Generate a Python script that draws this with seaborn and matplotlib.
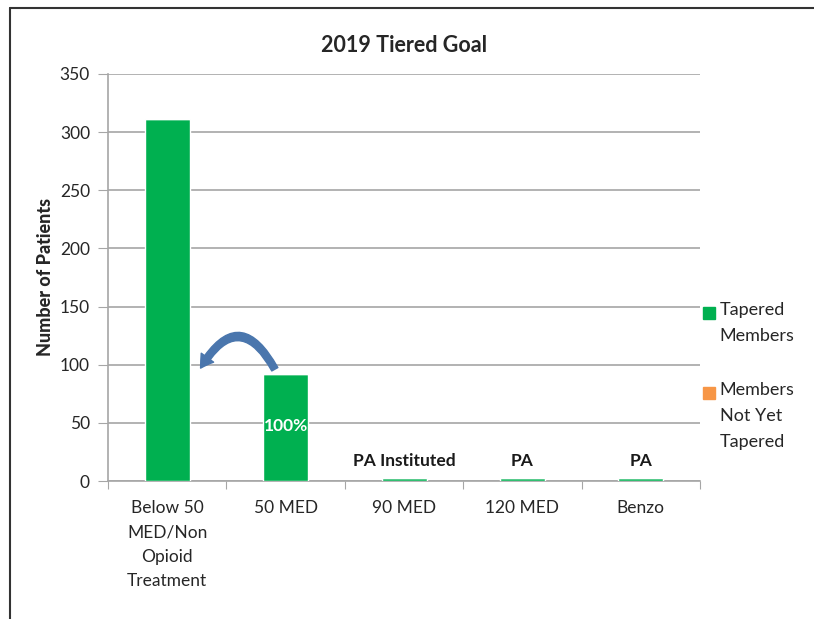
import pandas as pd
import matplotlib.pyplot as plt
import seaborn as sns
from matplotlib.lines import Line2D
from matplotlib.patches import FancyArrowPatch

# veriler
categories = ["Below 50\nMED/Non\nOpioid\nTreatment", "50 MED", "90 MED", "120 MED", "Benzo"]
tapered = [311, 92, 3, 3, 3]
not_yet_tapered = [0, 0, 0, 0, 0]
bar_notes = ["", "", "PA Instituted", "PA", "PA"]
legend_labels = ["Tapered\nMembers", "Members\nNot Yet\nTapered"]

df = pd.DataFrame({"category": categories, "tapered": tapered, "not_yet": not_yet_tapered})

sns.set_style("white")
plt.rcParams["font.family"] = ["Lato", "DejaVu Sans"]

green = "#00B050"
orange = "#F79646"

fig = plt.figure(figsize=(8.14, 6.19), dpi=100)
ax = fig.add_axes([0.1327, 0.2229, 0.7273, 0.6576])

sns.barplot(data=df, x="category", y="tapered", color=green, width=0.38,
            saturation=1, ax=ax, zorder=3)
ax.bar(range(len(categories)), not_yet_tapered, bottom=tapered, width=0.38,
       color=orange, zorder=3)

ax.set_ylim(0, 350)
ax.set_xlim(-0.5, len(categories) - 0.5)
ax.set_yticks(range(0, 351, 50))
ax.grid(axis="y", color="#a6a6a6", linewidth=1.2, zorder=0)
ax.set_axisbelow(True)
for s in ["top", "right"]:
    ax.spines[s].set_visible(False)
ax.spines["left"].set_color("#a6a6a6")
ax.spines["bottom"].set_color("#a6a6a6")
ax.spines["left"].set_linewidth(1.2)
ax.spines["bottom"].set_linewidth(1.2)

# x tickler kategori sınırlarında
ax.set_xticks([i - 0.5 for i in range(len(categories) + 1)], minor=False)
ax.set_xticklabels([])
ax.set_xticks(range(len(categories)), minor=True)
ax.set_xticklabels(categories, minor=True, fontsize=12.5, color="#262626", linespacing=1.62)
ax.tick_params(axis="x", which="major", length=6, color="#a6a6a6", direction="out", bottom=True)
ax.tick_params(axis="x", which="minor", length=0, pad=14)
ax.tick_params(axis="y", length=7, color="#a6a6a6", direction="out", left=True,
               labelsize=12.5, labelcolor="#262626", pad=6)

ax.set_xlabel("")
ax.set_ylabel("Number of Patients", fontsize=13, fontweight="black", labelpad=4)
ax.set_title("2019 Tiered Goal", fontsize=15.5, fontweight="bold", pad=16)

# çubuk notları
for i, note in enumerate(bar_notes):
    if note:
        ax.text(i, tapered[i] + 7, note, ha="center", va="bottom",
                fontsize=12.5, fontweight="bold", color="#1a1a1a")
ax.text(1, 47, "100%", ha="center", va="center", fontsize=12.5,
        fontweight="bold", color="white", zorder=4)

# kavisli ok
arrow = FancyArrowPatch((0.92, 94), (0.27, 95), connectionstyle="arc3,rad=0.9",
                        arrowstyle="simple,head_width=11,head_length=9,tail_width=5",
                        color="#4a76ad", zorder=5, mutation_scale=1)
ax.add_patch(arrow)

# lejant (işaret ilk satırla hizalı)
legend_colors = [green, orange]
legend_tops = [1 - 302 / 619, 1 - 382 / 619]
for lab, col, top in zip(legend_labels, legend_colors, legend_tops):
    fig.text(0.884, top, lab, ha="left", va="top", fontsize=13,
             color="#262626", linespacing=1.75)
    fig.add_artist(Line2D([0.8705], [top - 0.018], marker="s", linestyle="",
                          color=col, markersize=8, transform=fig.transFigure))

# çerçeve çizgileri
fig.add_artist(Line2D([0.0125, 0.0125], [0, 0.987], color="#333333", linewidth=1.5,
                      transform=fig.transFigure))
fig.add_artist(Line2D([0.0125, 1.0], [0.987, 0.987], color="#333333", linewidth=1.5,
                      transform=fig.transFigure))

plt.savefig("out.png", dpi=100)
